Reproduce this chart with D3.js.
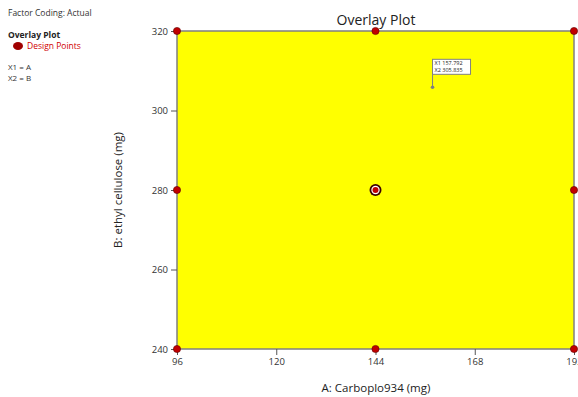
<!DOCTYPE html>
<html><head><meta charset="utf-8">
<script src="https://cdn.jsdelivr.net/npm/d3@7"></script>
<style>body{margin:0;background:#fff;}svg{display:block;font-family:"Open Sans",sans-serif;}</style>
</head><body><svg id="c" width="578" height="397"></svg>
<script>
const xTicks=[96,120,144,168,192];
const yTicks=[240,260,280,300,320];
const designX=[96,144,192,96,192,96,144,192,144];
const designY=[320,320,320,280,280,240,240,240,280];
const replicated=[false,false,false,false,false,false,false,false,true];
const flagX=157.792, flagY=305.835;

const svg=d3.select("#c");
const x=d3.scaleLinear().domain([96,192]).range([177,574]);
const y=d3.scaleLinear().domain([240,320]).range([349,31]);

svg.append("rect").attr("x",x(96)).attr("y",y(320)).attr("width",x(192)-x(96)).attr("height",y(240)-y(320))
  .attr("fill","#ffff00").attr("stroke","#808080").attr("stroke-width",1.5);

const gx=svg.append("g").attr("transform",`translate(0,${y(240)})`).call(d3.axisBottom(x).tickValues(xTicks).tickSize(6).tickPadding(3));
const gy=svg.append("g").attr("transform",`translate(${x(96)},0)`).call(d3.axisLeft(y).tickValues(yTicks).tickSize(6).tickPadding(3));
[gx,gy].forEach(g=>{g.select(".domain").remove();g.selectAll("line").attr("stroke","#555");g.selectAll("text").attr("fill","#333").style("font-size","9.5px").style("font-family","Open Sans, sans-serif");});
// the last x tick label is clipped by the window edge, as in the reference
gx.selectAll(".tick").filter(d=>d===192).select("text").text("192");

svg.append("text").attr("x",376).attr("y",25).attr("text-anchor","middle").style("font-size","14px").attr("fill","#222").text("Overlay Plot");
svg.append("text").attr("x",376).attr("y",392).attr("text-anchor","middle").style("font-size","11.5px").attr("fill","#222").text("A: Carboplo934 (mg)");
svg.append("text").attr("transform","translate(122,190) rotate(-90)").attr("text-anchor","middle").style("font-size","11.5px").attr("fill","#222").text("B: ethyl cellulose (mg)");

designX.forEach((d,i)=>{
  const cx=x(d), cy=y(designY[i]);
  if(replicated[i]){
    svg.append("circle").attr("cx",cx).attr("cy",cy).attr("r",6).attr("fill","#3a0000");
    svg.append("circle").attr("cx",cx).attr("cy",cy).attr("r",4.2).attr("fill","#fff");
    svg.append("circle").attr("cx",cx).attr("cy",cy).attr("r",3).attr("fill","#c00000");
  } else {
    svg.append("circle").attr("cx",cx).attr("cy",cy).attr("r",3.6).attr("fill","#c00000").attr("stroke","#600000").attr("stroke-width",0.6);
  }
});

// flag
const fx=x(flagX), fy=y(flagY);
svg.append("line").attr("x1",fx).attr("x2",fx).attr("y1",fy).attr("y2",fy-27).attr("stroke","#808080").attr("stroke-width",1);
svg.append("circle").attr("cx",fx).attr("cy",fy).attr("r",1.8).attr("fill","#808080");
svg.append("rect").attr("x",fx).attr("y",fy-28).attr("width",38).attr("height",15).attr("fill","#fff").attr("stroke","#808080");
svg.append("text").attr("x",fx+2).attr("y",fy-22).style("font-size","5.5px").attr("fill","#222").text("X1  "+flagX.toFixed(3));
svg.append("text").attr("x",fx+2).attr("y",fy-15.5).style("font-size","5.5px").attr("fill","#222").text("X2  "+flagY.toFixed(3));

// left legend
svg.append("text").attr("x",8).attr("y",16).style("font-size","8.5px").attr("fill","#333").text("Factor Coding: Actual");
svg.append("text").attr("x",8).attr("y",38).style("font-size","8.5px").style("font-weight","bold").attr("fill","#222").text("Overlay Plot");
svg.append("ellipse").attr("cx",18).attr("cy",46).attr("rx",5).attr("ry",4).attr("fill","#a00000");
svg.append("text").attr("x",27).attr("y",49).style("font-size","8.5px").attr("fill","#d00000").text("Design Points");
svg.append("text").attr("x",8).attr("y",70).style("font-size","8px").attr("fill","#333").text("X1 = A");
svg.append("text").attr("x",8).attr("y",81).style("font-size","8px").attr("fill","#333").text("X2 = B");
</script></body></html>
